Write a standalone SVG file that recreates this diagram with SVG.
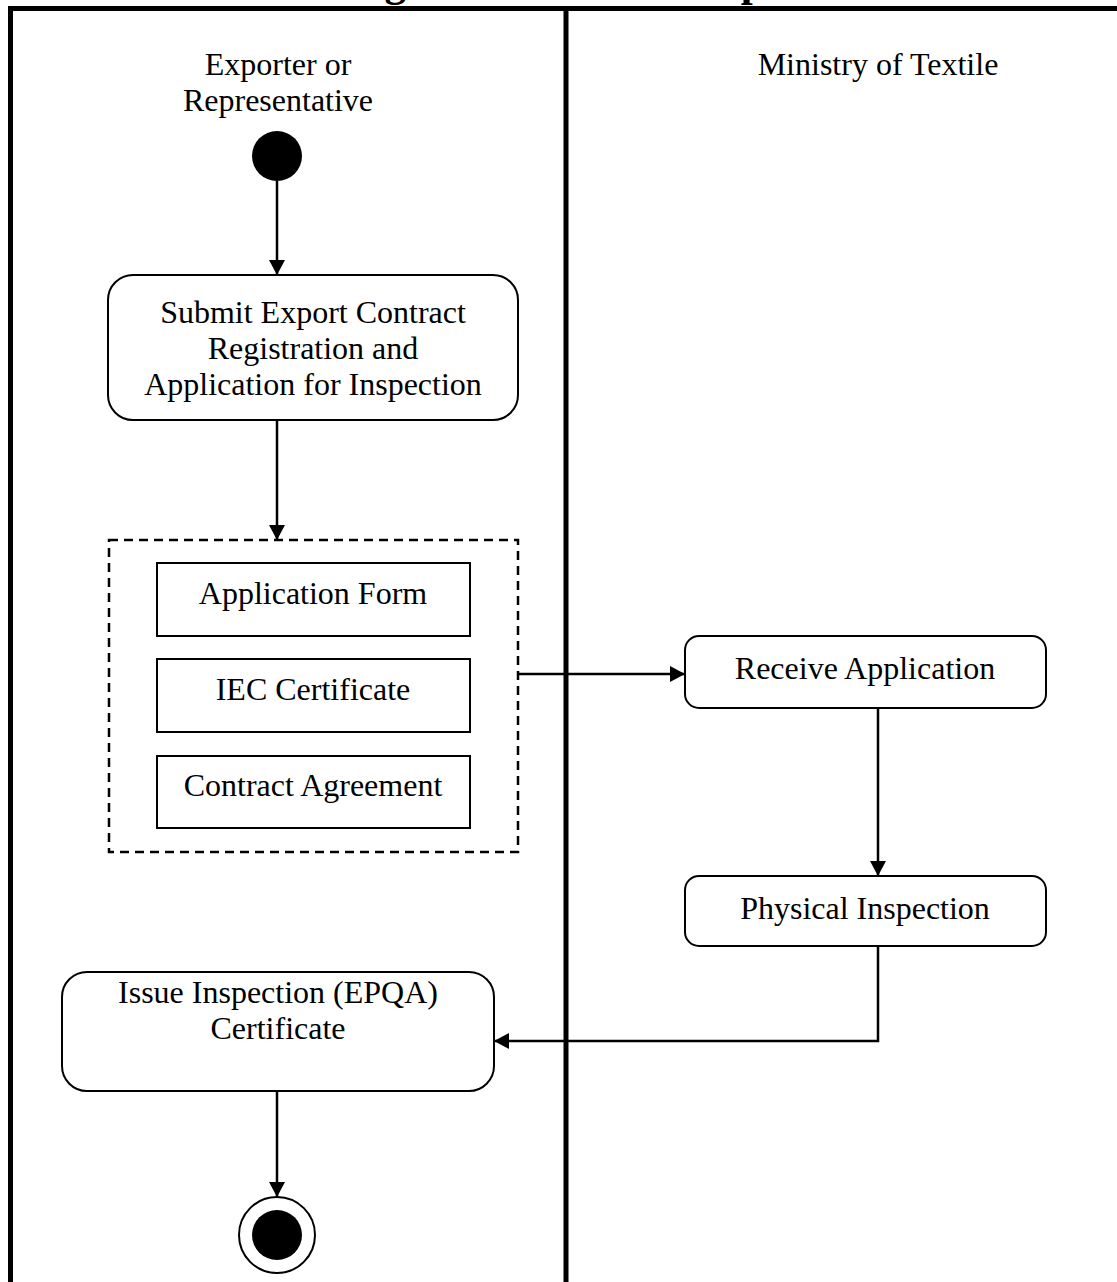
<svg xmlns="http://www.w3.org/2000/svg" width="1117" height="1282" viewBox="0 0 1117 1282">
  <style>
    .lbl { font-family: "Liberation Serif", "Times New Roman", serif; font-size: 32px; fill: #000; text-anchor: middle; }
    .title { font-family: "Liberation Serif", "Times New Roman", serif; font-size: 43px; font-weight: bold; fill: #000; }
    .act { fill: #fff; stroke: #000; stroke-width: 2; }
    .doc { fill: #fff; stroke: #000; stroke-width: 2; }
    .grp { fill: none; stroke: #000; stroke-width: 2.5; stroke-dasharray: 9 6; }
    .frame { stroke: #000; stroke-width: 5; fill: none; }
    .edge { fill: none; stroke: #000; stroke-width: 2.5; }
  </style>
  <defs>
    <marker id="arrow" markerUnits="userSpaceOnUse" markerWidth="16" markerHeight="16" viewBox="0 0 16 16" refX="15" refY="8" orient="auto">
      <path d="M0,0 L15,8 L0,16 Z" fill="#000"/>
    </marker>
  </defs>

  <rect width="1117" height="1282" fill="#fff"/>

  <!-- heading, clipped by the top edge -->
  <text class="title" x="130" y="-4">Swimlane Diagram for Textile Export</text>

  <!-- swimlane frame -->
  <g id="lanes">
    <path class="frame" d="M10.5,1282 V8.5 H1117"/>
    <line class="frame" x1="566" y1="8" x2="566" y2="1282"/>
    <text class="lbl" x="278" y="75">Exporter or</text>
    <text class="lbl" x="278" y="111">Representative</text>
    <text class="lbl" x="878" y="75">Ministry of Textile</text>
  </g>

  <g id="start">
    <circle cx="277" cy="156" r="25" fill="#000"/>
  </g>

  <g id="submit">
    <rect class="act" x="108" y="275" width="410" height="145" rx="25" ry="25"/>
    <text class="lbl" x="313" y="323">Submit Export Contract</text>
    <text class="lbl" x="313" y="359">Registration and</text>
    <text class="lbl" x="313" y="395">Application for Inspection</text>
  </g>

  <g id="documents">
    <rect class="grp" x="109" y="540" width="409" height="312"/>
    <g id="doc-form">
      <rect class="doc" x="157" y="563" width="313" height="73"/>
      <text class="lbl" x="313" y="604">Application Form</text>
    </g>
    <g id="doc-iec">
      <rect class="doc" x="157" y="659" width="313" height="73"/>
      <text class="lbl" x="313" y="700">IEC Certificate</text>
    </g>
    <g id="doc-contract">
      <rect class="doc" x="157" y="756" width="313" height="72"/>
      <text class="lbl" x="313" y="796">Contract Agreement</text>
    </g>
  </g>

  <g id="receive">
    <rect class="act" x="685" y="636" width="361" height="72" rx="14" ry="14"/>
    <text class="lbl" x="865" y="679">Receive Application</text>
  </g>

  <g id="inspect">
    <rect class="act" x="685" y="876" width="361" height="70" rx="14" ry="14"/>
    <text class="lbl" x="865" y="919">Physical Inspection</text>
  </g>

  <g id="issue">
    <rect class="act" x="62" y="972" width="432" height="119" rx="25" ry="25"/>
    <text class="lbl" x="278" y="1003">Issue Inspection (EPQA)</text>
    <text class="lbl" x="278" y="1039">Certificate</text>
  </g>

  <g id="end">
    <circle cx="277" cy="1235" r="38" fill="#fff" stroke="#000" stroke-width="2"/>
    <circle cx="277" cy="1235" r="25" fill="#000"/>
  </g>

  <!-- control flow -->
  <g id="connectors">
    <line class="edge" x1="277" y1="181" x2="277" y2="275" marker-end="url(#arrow)"/>
    <line class="edge" x1="277" y1="420" x2="277" y2="540" marker-end="url(#arrow)"/>
    <line class="edge" x1="518" y1="674" x2="685" y2="674" marker-end="url(#arrow)"/>
    <line class="edge" x1="878" y1="708" x2="878" y2="876" marker-end="url(#arrow)"/>
    <path class="edge" d="M878,946 V1041 H494" marker-end="url(#arrow)"/>
    <line class="edge" x1="277" y1="1091" x2="277" y2="1197" marker-end="url(#arrow)"/>
  </g>
</svg>
